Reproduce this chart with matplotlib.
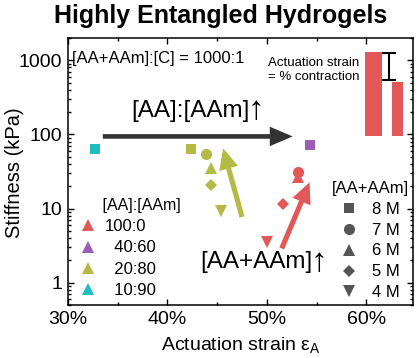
import matplotlib
matplotlib.use("Agg")
import matplotlib.pyplot as plt
from matplotlib.lines import Line2D
from matplotlib.ticker import FixedLocator, NullFormatter, LogLocator

plt.rcParams['font.family'] = ['Liberation Sans', 'DejaVu Sans']
plt.rcParams['mathtext.fontset'] = 'custom'
plt.rcParams['mathtext.rm'] = 'Liberation Sans'
plt.rcParams['mathtext.it'] = 'Liberation Sans:italic'

# ---------------- data ----------------
ratios = ['100:0', '40:60', '20:80', '10:90']
ratio_colors = ['#E25858', '#9B5DB5', '#B4BB45', '#1DBDC0']
concs = ['8 M', '7 M', '6 M', '5 M', '4 M']
conc_markers = ['s', 'o', '^', 'D', 'v']
conc_sizes = [7.2, 8.0, 9.0, 6.6, 9.0]

# per ratio: concentration index, strain (%), stiffness (kPa)
red_conc = [1, 2, 3, 4]
red_strain = [53.1, 53.1, 51.6, 50.0]
red_stiff = [30.8, 26.4, 11.4, 3.5]

purple_conc = [0]
purple_strain = [54.3]
purple_stiff = [71]

olive_conc = [0, 1, 2, 3, 4]
olive_strain = [42.4, 43.9, 44.4, 44.4, 45.4]
olive_stiff = [64, 55, 35, 20.6, 9.2]

cyan_conc = [0]
cyan_strain = [32.7]
cyan_stiff = [63]

series = [
    (red_conc, red_strain, red_stiff, ratio_colors[0]),
    (purple_conc, purple_strain, purple_stiff, ratio_colors[1]),
    (olive_conc, olive_strain, olive_stiff, ratio_colors[2]),
    (cyan_conc, cyan_strain, cyan_stiff, ratio_colors[3]),
]

x_ticks = [30, 40, 50, 60]
x_tick_labels = ['30%', '40%', '50%', '60%']
x_minor = [35, 45, 55]
y_ticks = [1, 10, 100, 1000]
y_tick_labels = ['1', '10', '100', '1000']

# trend arrows (tail -> head) in data coords
arrow_ratio = ((33.5, 94), (52.6, 94))
arrow_olive = ((47.5, 7.7), (45.6, 65))
arrow_red = ((51.5, 2.9), (54.3, 22.6))

# schematic bars (relative length before / after actuation)
bar_lengths = [1.0, 0.64]
bar_widths = [1.0, 0.65]

# ---------------- figure ----------------
W, H = 419, 358
fig = plt.figure(figsize=(W / 100, H / 100), dpi=100)
ax = fig.add_axes([68 / W, 1 - 305 / H, 345 / W, 267 / H])

for conc_idx, xs, ys, col in series:
    for ci, x, y in zip(conc_idx, xs, ys):
        ax.plot([x], [y], linestyle='none', marker=conc_markers[ci],
                markersize=conc_sizes[ci], color=col, markeredgewidth=0, zorder=3)

ax.set_yscale('log')
ax.set_xlim(30, 64.7)
ax.set_ylim(0.5, 2000)
ax.xaxis.set_major_locator(FixedLocator(x_ticks))
ax.set_xticklabels(x_tick_labels)
ax.xaxis.set_minor_locator(FixedLocator(x_minor))
ax.yaxis.set_major_locator(FixedLocator(y_ticks))
ax.set_yticklabels(y_tick_labels)
ax.yaxis.set_minor_locator(LogLocator(base=10, subs=range(2, 10)))
ax.yaxis.set_minor_formatter(NullFormatter())
ax.tick_params(which='both', direction='in', top=True, right=True, labelsize=14, width=1)
ax.tick_params(which='major', length=4, pad=4)
ax.tick_params(which='minor', length=2.2)
for s in ax.spines.values():
    s.set_linewidth(1.1)

# arrows
def draw_arrow(a, color, tw, hw, hl):
    ax.annotate('', xy=a[1], xytext=a[0],
                arrowprops=dict(arrowstyle=f'simple,tail_width={tw},head_width={hw},head_length={hl}',
                                mutation_scale=10, color=color, shrinkA=0, shrinkB=0, lw=0),
                zorder=2)

draw_arrow(arrow_ratio, '#333333', 0.33, 1.4, 1.65)
draw_arrow(arrow_olive, ratio_colors[2], 0.37, 1.4, 1.5)
draw_arrow(arrow_red, ratio_colors[0], 0.37, 1.4, 1.5)

# trend labels: text + taller up-arrow glyph
ax.text(48.3, 210, '[AA]:[AAm]', ha='right', va='center', fontsize=17.5)
ax.text(48.1, 210, '↑', ha='left', va='center', fontsize=24)
ax.text(54.6, 1.9, '[AA+AAm]', ha='right', va='center', fontsize=17.5)
ax.text(54.4, 1.9, '↑', ha='left', va='center', fontsize=24)

ax.text(72 / W, 1 - 58 / H, '[AA+AAm]:[C] = 1000:1', transform=fig.transFigure,
        ha='left', va='center', fontsize=12)
ax.text(268 / W, 1 - 70 / H, 'Actuation strain\n= % contraction', transform=fig.transFigure,
        ha='left', va='center', fontsize=9.5, linespacing=1.25)

# legends
h1 = [Line2D([], [], linestyle='none', marker='^', markersize=9, color=c, markeredgewidth=0)
      for c in ratio_colors]
lab1 = [ratios[0]] + ['  ' + r for r in ratios[1:]]
leg1 = ax.legend(h1, lab1, title='     [AA]:[AAm]', loc='upper left',
                 bbox_to_anchor=((80 - 68) / 345, (305 - 198) / 267),
                 frameon=False, fontsize=12, title_fontsize=11.5, alignment='left',
                 handlelength=1.0, handletextpad=0.5, labelspacing=0.37,
                 borderpad=0, borderaxespad=0)
ax.add_artist(leg1)

h2 = [Line2D([], [], linestyle='none', marker=m, markersize=s, color='#555555', markeredgewidth=0)
      for m, s in zip(conc_markers, conc_sizes)]
leg2 = ax.legend(h2, concs, title='[AA+AAm]', loc='upper right',
                 bbox_to_anchor=((409 - 68) / 345, (305 - 181) / 267),
                 frameon=False, fontsize=12, title_fontsize=12,
                 handlelength=1.0, handletextpad=0.9, labelspacing=0.35,
                 borderpad=0, borderaxespad=0)

# schematic inset bars
axi = fig.add_axes([365 / W, 1 - 136 / H, 38 / W, 84 / H])
axi.set_xlim(0, 2.25)
axi.set_ylim(0, 1)
axi.axis('off')
axi.bar([0, 1.6], bar_lengths, width=[bar_widths[0], bar_widths[1]], align='edge',
        color=ratio_colors[0])
axi.errorbar([1.42], [(bar_lengths[0] + bar_lengths[1]) / 2 + 0.005],
             yerr=[[(bar_lengths[0] - bar_lengths[1]) / 2 - 0.02]], color='black',
             capsize=5, elinewidth=1.5, capthick=1.5, fmt='none')

fig.text(221 / W, 1 - 23 / H, 'Highly Entangled Hydrogels', ha='center', va='baseline',
         fontsize=18, weight='bold')
fig.text(15 / W, 1 - 173 / H, 'Stiffness (kPa)', rotation=90, ha='center', va='center',
         fontsize=14.5)
fig.text(241 / W, 1 - 345 / H, 'Actuation strain ε$_\\mathrm{A}$', ha='center', va='center',
         fontsize=14)

fig.savefig('out.png', dpi=100)
